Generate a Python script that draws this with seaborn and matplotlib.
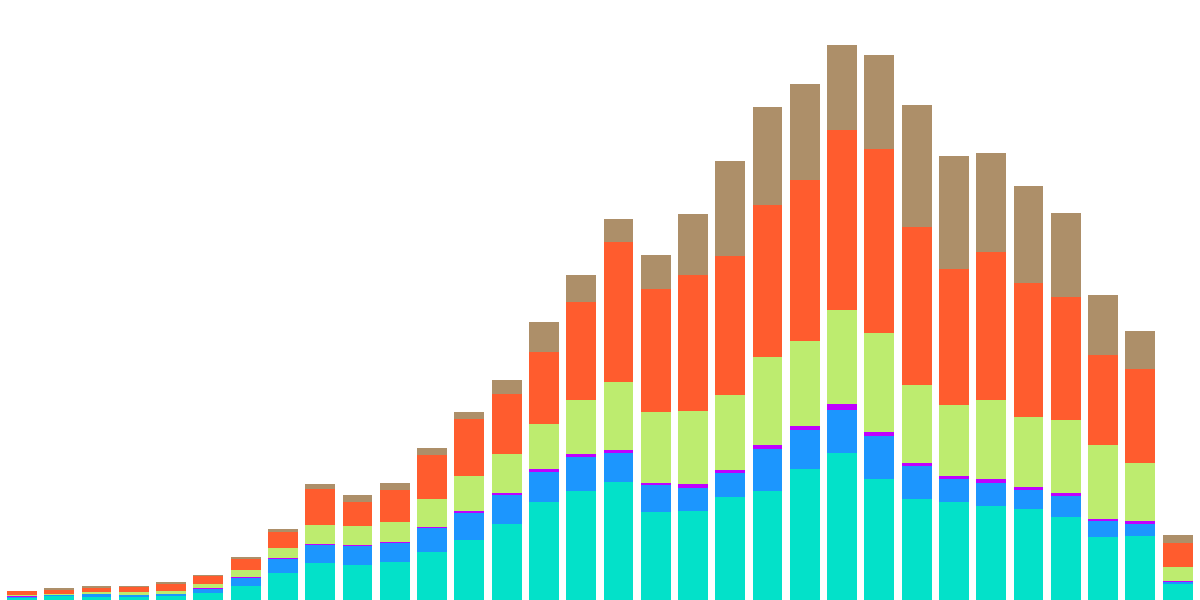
import numpy as np
import pandas as pd
import matplotlib
matplotlib.use("Agg")
import matplotlib.pyplot as plt
import seaborn as sns

# ── data (stacked layers, bottom to top) ─────────────────────────────────────
periods = ["P01", "P02", "P03", "P04", "P05", "P06", "P07", "P08",
           "P09", "P10", "P11", "P12", "P13", "P14", "P15", "P16",
           "P17", "P18", "P19", "P20", "P21", "P22", "P23", "P24",
           "P25", "P26", "P27", "P28", "P29", "P30", "P31", "P32"]

teal = [1.7, 3.7, 3.3, 3.3, 4.3, 7, 14, 27, 37, 35, 38, 48, 60, 76, 98, 109,
        118, 88, 89, 103, 109, 131, 147, 121, 101, 98, 94, 91, 83, 63, 64, 16]
blue = [1.3, 1.0, 2.3, 1.7, 2.0, 4, 8.3, 14, 18, 19.3, 19, 24, 27, 29, 30, 34,
        29, 27, 23, 24, 42, 39, 43, 43, 33, 23, 23, 19, 21, 16, 12, 2.5]
purple = [1.0, 0, 0, 0, 0, 1.3, 1, 0.7, 1.3, 1, 1, 1.3, 2, 2, 3, 3,
          3, 2, 4, 3, 4, 4, 6, 4, 3, 3, 4, 3, 3, 2, 3, 0.5]
green = [1.0, 1.6, 2.3, 3.3, 2.7, 3.7, 6.7, 10.3, 18.7, 18.7, 20, 27.7, 35, 39, 45, 54,
         68, 71, 73, 75, 88, 85, 94, 99, 78, 71, 79, 70, 73, 74, 58, 14]
orange = [4.0, 4.0, 4.0, 4.4, 7.3, 8.3, 11, 16, 36.3, 24, 32, 44, 57, 60, 72, 98,
          140, 123, 136, 139, 152, 161, 180, 184, 158, 136, 148, 134, 123, 90, 94, 24]
tan = [0.3, 1.7, 2.0, 1.3, 1.7, 0.7, 2, 3, 4.7, 7, 7, 7, 7, 14, 30, 27,
       23, 34, 61, 95, 98, 96, 85, 94, 122, 113, 99, 97, 84, 60, 38, 8]

layer_names = ["teal", "blue", "purple", "green", "orange", "tan"]
layer_colors = ["#03E1C9", "#1C96FE", "#BF00FF", "#BDEC6F", "#FF5C2E", "#AD8F69"]

# ── plot ─────────────────────────────────────────────────────────────────────
df = pd.DataFrame({"period": periods, "teal": teal, "blue": blue,
                   "purple": purple, "green": green, "orange": orange, "tan": tan})
cum = df[layer_names].cumsum(axis=1)

fig = plt.figure(figsize=(12, 6), dpi=100)
ax = fig.add_axes([0, 0, 1, 1])

# draw cumulative totals from the top layer down so lower layers sit on top
for name, color in reversed(list(zip(layer_names, layer_colors))):
    sns.barplot(x=df["period"], y=cum[name], color=color, width=0.8,
                saturation=1, linewidth=0, ax=ax)

ax.set_xlim(-0.59, 31.6)
ax.set_ylim(0, 600)
ax.axis("off")

fig.savefig("out.png", dpi=100)
